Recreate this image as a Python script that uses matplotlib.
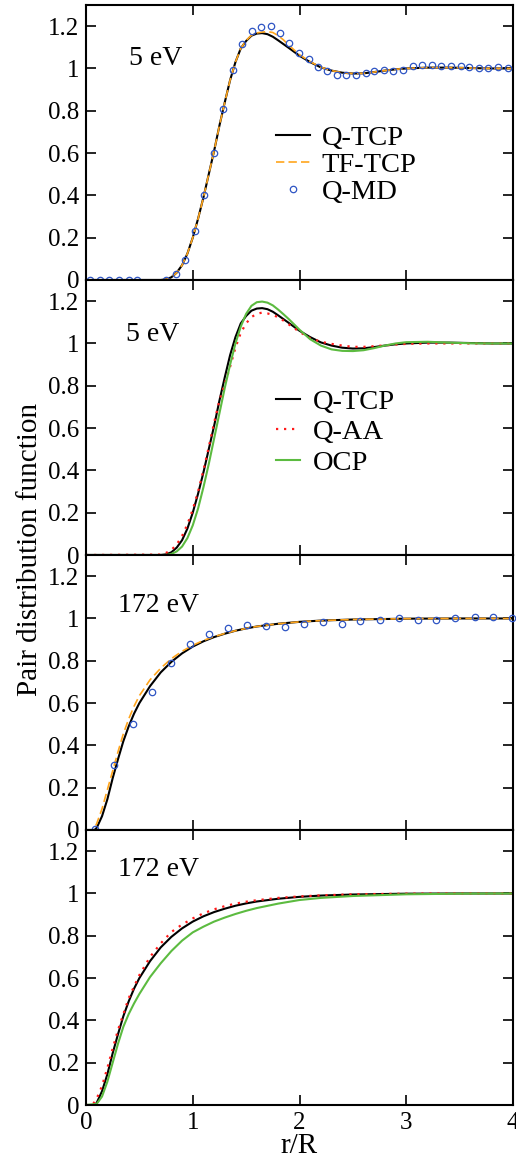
import numpy as np
import matplotlib
matplotlib.use("Agg")
import matplotlib.pyplot as plt
from matplotlib.ticker import FuncFormatter

plt.rcParams['font.family'] = ['Liberation Serif', 'DejaVu Serif']

# ---- 5 eV: theory curves ----
r_5 = [0, 0.7, 0.75, 0.8, 0.85, 0.9, 0.95, 1.0, 1.05, 1.1, 1.15, 1.2, 1.25, 1.3, 1.35,
       1.4, 1.45, 1.5, 1.55, 1.6, 1.65, 1.7, 1.75, 1.8, 1.85, 1.9, 2.0, 2.1, 2.2, 2.3,
       2.4, 2.5, 2.6, 2.7, 2.8, 2.9, 3.0, 3.2, 3.4, 3.6, 3.8, 4.0]
qtcp_5 = [0, 0, 0.003, 0.013, 0.035, 0.07, 0.125, 0.2, 0.29, 0.39, 0.5, 0.61, 0.73, 0.84, 0.945,
          1.03, 1.095, 1.13, 1.155, 1.165, 1.167, 1.162, 1.15, 1.133, 1.115, 1.097, 1.06, 1.03, 1.005, 0.99,
          0.98, 0.976, 0.977, 0.983, 0.99, 0.996, 1.0, 1.004, 1.004, 1.002, 1.0, 1.0]
tftcp_5 = [0, 0, 0.003, 0.013, 0.035, 0.07, 0.125, 0.2, 0.29, 0.39, 0.5, 0.61, 0.73, 0.84, 0.945,
           1.03, 1.095, 1.132, 1.157, 1.168, 1.172, 1.174, 1.17, 1.155, 1.135, 1.11, 1.065, 1.032, 1.006, 0.99,
           0.98, 0.976, 0.977, 0.983, 0.99, 0.996, 1.0, 1.004, 1.004, 1.002, 1.0, 1.0]
qaa_5 = [0, 0.002, 0.01, 0.024, 0.05, 0.09, 0.145, 0.215, 0.3, 0.4, 0.51, 0.625, 0.73, 0.81, 0.89,
         0.98, 1.05, 1.095, 1.125, 1.14, 1.146, 1.142, 1.135, 1.124, 1.108, 1.09, 1.055, 1.025, 1.008, 0.998,
         0.99, 0.984, 0.984, 0.987, 0.991, 0.995, 0.998, 1.0, 1.0, 1.0, 1.0, 1.0]
r_ocp5 = [0, 0.75, 0.8, 0.85, 0.9, 0.95, 1.0, 1.05, 1.1, 1.15, 1.2, 1.25, 1.3, 1.35, 1.4,
          1.45, 1.5, 1.55, 1.6, 1.65, 1.7, 1.75, 1.8, 1.85, 1.9, 2.0, 2.1, 2.2, 2.3, 2.4,
          2.5, 2.6, 2.7, 2.8, 2.9, 3.0, 3.2, 3.4, 3.6, 3.8, 4.0]
ocp_5 = [0, 0, 0.005, 0.017, 0.04, 0.08, 0.14, 0.22, 0.32, 0.43, 0.55, 0.67, 0.79, 0.9, 1.0,
         1.08, 1.14, 1.178, 1.195, 1.198, 1.193, 1.18, 1.16, 1.138, 1.115, 1.065, 1.02, 0.99, 0.972, 0.965,
         0.964, 0.968, 0.978, 0.99, 1.0, 1.006, 1.008, 1.004, 1.001, 1.0, 1.0]

# Q-MD points, 5 eV
r_md5 = [0.04, 0.13, 0.22, 0.31, 0.40, 0.48, 0.75, 0.84, 0.93, 1.02, 1.105, 1.196, 1.283, 1.374,
         1.46, 1.552, 1.64, 1.73, 1.817, 1.905, 1.995, 2.086, 2.17, 2.26, 2.35, 2.44, 2.53, 2.62,
         2.70, 2.79, 2.88, 2.97, 3.06, 3.15, 3.24, 3.33, 3.42, 3.51, 3.59, 3.68, 3.77, 3.86, 3.95]
g_md5 = [0, 0, 0, 0, 0, 0, 0, 0.027, 0.095, 0.23, 0.40, 0.60, 0.81, 0.995,
         1.116, 1.175, 1.195, 1.20, 1.167, 1.122, 1.071, 1.043, 1.005, 0.986, 0.970, 0.967, 0.967, 0.980,
         0.989, 0.992, 0.989, 0.995, 1.011, 1.016, 1.016, 1.011, 1.011, 1.011, 1.005, 1.003, 1.003, 1.005, 1.003]

# ---- 172 eV ----
r_172 = [0, 0.08, 0.1, 0.15, 0.2, 0.25, 0.3, 0.35, 0.4, 0.45, 0.5, 0.6, 0.7, 0.8, 0.9, 1.0,
         1.1, 1.2, 1.3, 1.4, 1.5, 1.6, 1.8, 2.0, 2.2, 2.5, 3.0, 3.5, 4.0]
qtcp_172 = [0, 0, 0.01, 0.065, 0.145, 0.245, 0.335, 0.42, 0.49, 0.55, 0.6, 0.68, 0.745, 0.795, 0.835, 0.867,
            0.892, 0.912, 0.928, 0.942, 0.953, 0.962, 0.975, 0.984, 0.99, 0.995, 0.999, 1.0, 1.0]
r_tf172 = [0, 0.07, 0.1, 0.15, 0.2, 0.25, 0.3, 0.35, 0.4, 0.45, 0.5, 0.6, 0.7, 0.8, 0.9, 1.0,
           1.1, 1.2, 1.3, 1.4, 1.5, 1.6, 1.8, 2.0, 2.2, 2.5, 3.0, 3.5, 4.0]
tftcp_172 = [0, 0, 0.03, 0.1, 0.19, 0.28, 0.37, 0.455, 0.525, 0.585, 0.635, 0.71, 0.765, 0.81, 0.845, 0.873,
             0.896, 0.914, 0.929, 0.942, 0.953, 0.962, 0.975, 0.984, 0.99, 0.995, 0.999, 1.0, 1.0]
r_aa172 = [0, 0.06, 0.1, 0.15, 0.2, 0.25, 0.3, 0.35, 0.4, 0.45, 0.5, 0.6, 0.7, 0.8, 0.9, 1.0,
           1.1, 1.2, 1.3, 1.4, 1.5, 1.6, 1.8, 2.0, 2.2, 2.5, 3.0, 3.5, 4.0]
qaa_172 = [0, 0, 0.03, 0.09, 0.175, 0.267, 0.355, 0.43, 0.505, 0.56, 0.614, 0.7, 0.764, 0.818, 0.853, 0.882,
           0.906, 0.925, 0.94, 0.952, 0.961, 0.968, 0.979, 0.986, 0.991, 0.996, 0.999, 1.0, 1.0]
r_ocp172 = [0, 0.1, 0.15, 0.2, 0.25, 0.3, 0.35, 0.4, 0.45, 0.5, 0.6, 0.7, 0.8, 0.9, 1.0,
            1.1, 1.2, 1.3, 1.4, 1.5, 1.6, 1.8, 2.0, 2.2, 2.5, 3.0, 3.5, 4.0]
ocp_172 = [0, 0.005, 0.04, 0.11, 0.2, 0.29, 0.37, 0.43, 0.48, 0.525, 0.605, 0.67, 0.728, 0.777, 0.816,
           0.843, 0.867, 0.886, 0.903, 0.918, 0.931, 0.952, 0.969, 0.979, 0.988, 0.996, 0.999, 1.0]

r_md172 = [0.088, 0.265, 0.443, 0.618, 0.796, 0.974, 1.152, 1.33, 1.508, 1.686, 1.864, 2.042,
           2.22, 2.398, 2.57, 2.75, 2.93, 3.107, 3.28, 3.46, 3.64, 3.815, 3.99]
g_md172 = [0.005, 0.305, 0.502, 0.652, 0.791, 0.878, 0.926, 0.953, 0.968, 0.964, 0.961, 0.972,
           0.981, 0.973, 0.989, 0.995, 1.003, 0.995, 0.995, 1.0, 1.005, 1.005, 1.0]

BLACK = '#000000'
ORANGE = '#ffa51c'
BLUE = '#2f55c4'
RED = '#ff1a1a'
GREEN = '#5cbb40'

fig = plt.figure(figsize=(5.16, 11.61), dpi=100)
W, H = 516.0, 1161.0
left, right, top, ph = 86, 513, 5, 275
axes = []
for i in range(4):
    bottom = H - (top + ph * (i + 1))
    ax = fig.add_axes([left / W, bottom / H, (right - left) / W, ph / H])
    axes.append(ax)

fmt = FuncFormatter(lambda v, p: '%g' % round(v, 2))
for i, ax in enumerate(axes):
    ax.set_xlim(0, 4)
    ax.set_ylim(0, 1.3)
    ax.set_xticks([0, 1, 2, 3, 4])
    ax.set_yticks([0, 0.2, 0.4, 0.6, 0.8, 1.0, 1.2])
    ax.yaxis.set_major_formatter(fmt)
    ax.tick_params(direction='in', top=True, right=True, length=7, width=1.2,
                   labelsize=18, pad=5)
    if i < 3:
        ax.tick_params(labelbottom=False)
    for s in ax.spines.values():
        s.set_linewidth(1.5)

lw = 1.5
msty = dict(marker='o', ms=4.6, mfc='none', mec=BLUE, mew=0.9, ls='none', clip_on=False, zorder=5)
dot = (0, (1, 2.6))

# panel 1: 5 eV, Q-TCP / TF-TCP / Q-MD
ax = axes[0]
ax.plot(r_5, qtcp_5, color=BLACK, lw=lw, label='Q-TCP')
ax.plot(r_5, tftcp_5, color=ORANGE, lw=1.2, dashes=(5, 2.5), label='TF-TCP')
ax.plot(r_md5, g_md5, label='Q-MD', **msty)
ax.text(0.10, 0.807, '5 eV', transform=ax.transAxes, fontsize=20, va='center')
ax.legend(loc='upper left', bbox_to_anchor=(0.445, 0.565), frameon=False, fontsize=20.5,
          handlelength=1.2, handletextpad=0.4, labelspacing=0.05, borderpad=0, borderaxespad=0)

# panel 2: 5 eV, Q-TCP / Q-AA / OCP
ax = axes[1]
ax.plot(r_5, qtcp_5, color=BLACK, lw=lw, label='Q-TCP')
ax.plot(r_5, qaa_5, color=RED, lw=1.6, ls=dot, label='Q-AA')
ax.plot(r_ocp5, ocp_5, color=GREEN, lw=lw, label='OCP')
ax.text(0.094, 0.80, '5 eV', transform=ax.transAxes, fontsize=20, va='center')
ax.legend(loc='upper left', bbox_to_anchor=(0.445, 0.603), frameon=False, fontsize=20.5,
          handlelength=0.85, handletextpad=0.45, labelspacing=0.15, borderpad=0, borderaxespad=0)

# panel 3: 172 eV, Q-TCP / TF-TCP / Q-MD
ax = axes[2]
ax.plot(r_172, qtcp_172, color=BLACK, lw=lw)
ax.plot(r_tf172, tftcp_172, color=ORANGE, lw=1.2, dashes=(5, 2.5))
ax.plot(r_md172, g_md172, **msty)
ax.text(0.075, 0.818, '172 eV', transform=ax.transAxes, fontsize=20, va='center')

# panel 4: 172 eV, Q-TCP / Q-AA / OCP
ax = axes[3]
ax.plot(r_172, qtcp_172, color=BLACK, lw=lw)
ax.plot(r_aa172, qaa_172, color=RED, lw=1.6, ls=dot)
ax.plot(r_ocp172, ocp_172, color=GREEN, lw=lw)
ax.text(0.075, 0.855, '172 eV', transform=ax.transAxes, fontsize=20, va='center')

fig.text(30 / W, 1 - 549 / H, 'Pair distribution function', rotation=90,
         ha='center', va='center', fontsize=21)
fig.text(299 / W, 1 - 1146 / H, 'r/R', ha='center', va='center', fontsize=21)

fig.savefig('out.png', dpi=100)
